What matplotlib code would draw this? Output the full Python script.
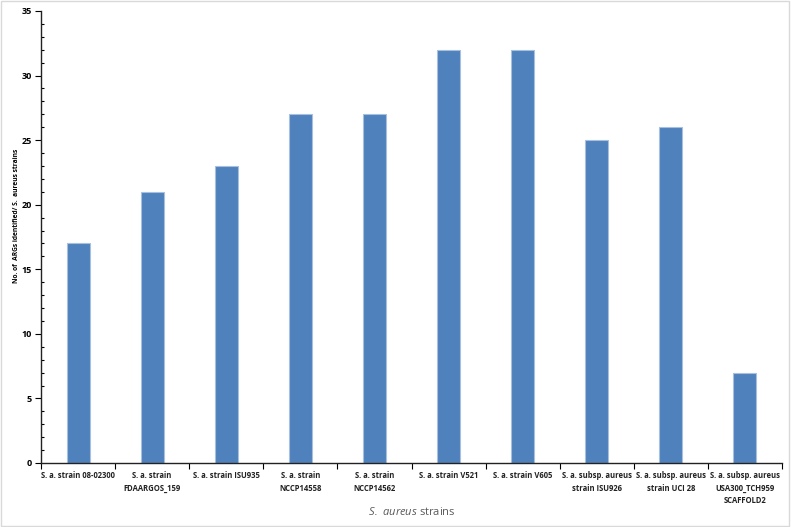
import matplotlib.pyplot as plt
from matplotlib.ticker import MultipleLocator
from matplotlib.patches import Rectangle

# Datos
cepas = ['S. a. strain 08-02300', 'S. a. strain\nFDAARGOS_159', 'S. a. strain ISU935',
         'S. a. strain\nNCCP14558', 'S. a. strain\nNCCP14562', 'S. a. strain V521',
         'S. a. strain V605', 'S. a. subsp. aureus\nstrain ISU926',
         'S. a. subsp. aureus\nstrain UCI 28', 'S. a. subsp. aureus\nUSA300_TCH959\nSCAFFOLD2']
args_count = [17, 21, 23, 27, 27, 32, 32, 25, 26, 7]

plt.rcParams['font.family'] = 'Open Sans'
plt.rcParams['mathtext.fontset'] = 'custom'
plt.rcParams['mathtext.it'] = 'Open Sans:italic'

fig = plt.figure(figsize=(7.91, 5.27), dpi=100)
ax = fig.add_axes([41 / 791, 1 - 463 / 527, (782 - 41) / 791, (463 - 11) / 527])

pos = list(range(len(cepas)))
ax.bar(pos, args_count, width=0.31, color='#4F81BD', edgecolor='#A7C0E0', linewidth=0.8, zorder=2)

ax.set_xlim(-0.5, len(cepas) - 0.5)
ax.set_ylim(0, 35)
ax.yaxis.set_major_locator(MultipleLocator(5))
ax.yaxis.set_minor_locator(MultipleLocator(1))
ax.set_xticks(pos)
ax.set_xticklabels(cepas, fontsize=5.5, fontweight='bold', color='#222222', linespacing=1.5)
ax.set_xticks([p + 0.5 for p in pos[:-1]] + [-0.5, len(cepas) - 0.5], minor=True)
ax.tick_params(axis='x', which='major', length=0, pad=6)
ax.tick_params(axis='x', which='minor', length=4, direction='out', width=0.8)
ax.tick_params(axis='y', which='major', length=4, direction='out', width=0.8, labelsize=6.5, pad=2.5)
ax.tick_params(axis='y', which='minor', length=2, direction='in', width=0.8)
for lab in ax.get_yticklabels():
    lab.set_fontweight('bold')

for s in ['top', 'right']:
    ax.spines[s].set_visible(False)
for s in ['left', 'bottom']:
    ax.spines[s].set_linewidth(1.0)
    ax.spines[s].set_color('#222222')

fig.text(17 / 791, 1 - 216 / 527, 'No. of  ARGs identified/ S.  aureus strains',
         fontsize=4.8, fontweight='bold', rotation=90, ha='center', va='center')
fig.text(412 / 791, 1 - 512 / 527, r'$\mathit{S.\ aureus}$ strains', fontsize=8,
         color='#595959', ha='center', va='center')

fig.patches.append(Rectangle((0.001, 0.001), 0.997, 0.997, transform=fig.transFigure,
                             fill=False, edgecolor='#D9D9D9', linewidth=1))

fig.savefig('out.png', dpi=100)
